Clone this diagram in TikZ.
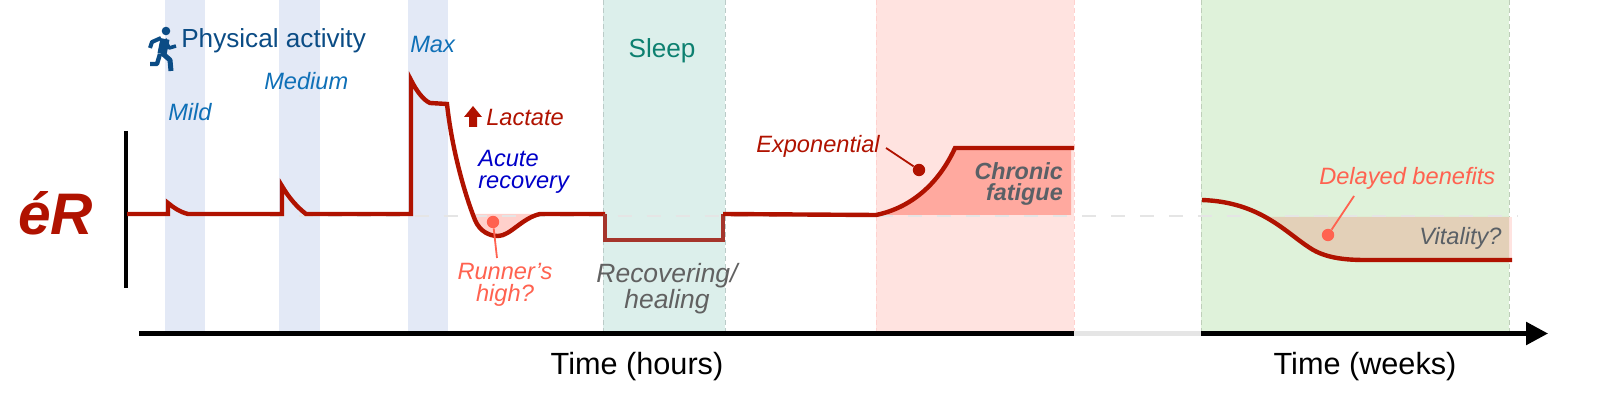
\documentclass[tikz,border=0pt]{standalone}
\usepackage{fontspec}
\usepackage{xcolor}
\setmainfont{Liberation Sans}
\usetikzlibrary{arrows.meta}
\definecolor{curvered}{HTML}{B01200}
\definecolor{sleepred}{HTML}{A5352B}
\definecolor{coral}{HTML}{FF6250}
\definecolor{activeblue}{HTML}{0F70B7}
\definecolor{runnerblue}{HTML}{0B4C85}
\definecolor{slategray}{HTML}{5A6066}
\definecolor{bandblue}{HTML}{E3E9F6}
\definecolor{bandsleep}{HTML}{DCEFEB}
\definecolor{bandred}{HTML}{FFE3E0}
\definecolor{bandgreen}{HTML}{DFF2DA}
\definecolor{dashgray}{HTML}{E5E5E5}
\tikzset{
    band/.style={fill=#1, draw=none},
    bandedge/.style={draw=#1, line width=0.25mm, dash pattern=on 1.2mm off 0.8mm},
    curve/.style={draw=curvered, line width=1.1mm, line join=miter},
    itlabel/.style={font=\fontsize{16.8}{15.6}\selectfont\itshape, anchor=base west},
    uplabel/.style={font=\fontsize{18.6}{22}\selectfont, anchor=base west},
    timelabel/.style={font=\fontsize{21.8}{26}\selectfont, anchor=base},
    dot/.style={circle, fill=#1, inner sep=0pt, minimum size=3.1mm},
    pointer/.style={draw=#1, line width=0.45mm},
    limb/.style={draw=runnerblue, line width=#1, line join=round},
}
\begin{document}
\begin{tikzpicture}[x=0.025cm, y=-0.025cm,
            >={Triangle[length=5.5mm, width=5.6mm]}
        ]
            \useasboundingbox (0,0) rectangle (1600,419);
            % activity and period bands
            \fill[band=bandblue] (165,0) rectangle (205,332);
            \fill[band=bandblue] (279,0) rectangle (320,332);
            \fill[band=bandblue] (408,0) rectangle (448,332);
            \fill[band=bandsleep] (603,0) rectangle (725,332);
            \fill[band=bandred] (876,0) rectangle (1074,332);
            \fill[band=bandgreen] (1201,0) rectangle (1509,332);
            \draw[bandedge=bandsleep!85!black] (603,0) -- (603,332) (725,0) -- (725,332);
            \draw[bandedge=bandred!92!red] (876,0) -- (876,332) (1074,0) -- (1074,332);
            \draw[bandedge=bandgreen!85!black] (1201,0) -- (1201,332) (1509,0) -- (1509,332);
            % shaded areas
            \fill[fill=coral!30!white] (475,214) .. controls (480,232) and (490,236) .. (498,236) .. controls (510,236) and (522,218) .. (540,214) -- cycle;
            \fill[fill=coral!55!white] (876,215) .. controls (910,208) and (938,185) .. (955,148) -- (1071,148) -- (1071,215) -- cycle;
            \fill[fill=bandred] (1509,217) rectangle (1512,260);
            \fill[fill={rgb,255:red,227;green,208;blue,184}] (1270,217) .. controls (1285,228) and (1298,238) .. (1310,248) .. controls (1325,258) and (1345,260) .. (1365,260) -- (1509,260) -- (1509,217) -- cycle;
            % baseline
            \draw[draw=dashgray, line width=0.7mm, dash pattern=on 9.95pt off 10.67pt] (270,216) -- (1518,216);
            % axes
            \coordinate (yaxistop) at (126,131);
            \coordinate (yaxisbot) at (126,288);
            \coordinate (xaxisa) at (139,333.5);
            \coordinate (xaxisb) at (1074,333.5);
            \coordinate (xaxisc) at (1201,333.5);
            \coordinate (xaxisd) at (1548,333.5);
            \draw[line width=1mm] (yaxistop) -- (yaxisbot);
            \draw[line width=1.1mm] (xaxisa) -- (xaxisb);
            \draw[draw=dashgray, line width=1.1mm] (xaxisb) -- (xaxisc);
            \draw[->, line width=1.1mm] (xaxisc) -- (xaxisd);
            % response curves
            \draw[curve] (127,214) -- (168,214) -- (168,203) .. controls (174,208) and (180,212) .. (188,214)
                -- (282,214) -- (282,186) .. controls (289,198) and (297,207) .. (306,214)
                -- (411,214) -- (411,80) .. controls (416,90) and (423,100) .. (430,103) -- (447,104)
                .. controls (452,150) and (465,195) .. (475,220) .. controls (480,232) and (490,236) .. (498,236)
                .. controls (510,236) and (522,218) .. (540,214) -- (605,214);
            \draw[curve, draw=sleepred] (605,214) -- (605,240) -- (723,240) -- (723,214);
            \draw[curve] (723,214) -- (876,215) .. controls (910,208) and (938,185) .. (955,148) -- (1074,148);
            \draw[curve] (1202,200) .. controls (1260,202) and (1285,232) .. (1310,248)
                .. controls (1325,258) and (1345,260) .. (1365,260) -- (1512,260);
            % runner
            \fill[fill=runnerblue] (166,31) circle (4.3);
            \draw[limb=2.3mm] (165,39) -- (162,54);
            \draw[limb=1mm] (161,38) -- (152,42) -- (150,48);
            \draw[limb=0.9mm] (165,39) -- (169,48) -- (176,46);
            \draw[limb=1.25mm] (162,53) -- (170,60) -- (171,71);
            \draw[limb=1.1mm] (160,54) -- (157,64) -- (150,64);
            % lactate arrow
            \fill[fill=curvered] (473,106) -- (482,117) -- (477,117) -- (477,127) -- (469,127) -- (469,117) -- (464,117) -- cycle;
            % texts
            \node[font=\fontsize{41.7}{48}\selectfont\bfseries\itshape, text=curvered, anchor=base west, inner sep=0pt] (ername) at (18,235) {éR};
            \node[uplabel, text=runnerblue, inner sep=0pt] (activity) at (181,48) {Physical activity};
            \node[itlabel, text=activeblue, inner sep=0pt] (mild) at (168,121) {Mild};
            \node[itlabel, text=activeblue, inner sep=0pt] (medium) at (264,90) {Medium};
            \node[itlabel, text=activeblue, inner sep=0pt] (maxlabel) at (410,53) {Max};
            \node[itlabel, text=curvered, inner sep=0pt] (lactate) at (486,126) {Lactate};
            \node[itlabel, text={rgb,255:red,0;green,0;blue,200}, anchor=west, align=left, inner sep=0pt] (acute) at (478,172) {Acute\\recovery};
            \node[itlabel, text=coral, anchor=center, align=center, inner sep=0pt] (runners) at (505,285) {Runner’s\\high?};
            \node[uplabel, text={rgb,255:red,13;green,128;blue,112}, anchor=base, inner sep=0pt] (sleep) at (662,58) {Sleep};
            \node[itlabel, font=\fontsize{18.8}{16.6}\selectfont\itshape, text=black!62, anchor=center, align=center, inner sep=0pt] (recovering) at (667,289) {Recovering/\\healing};
            \node[itlabel, text=curvered, inner sep=0pt] (exponential) at (756,153) {Exponential};
            \node[font=\fontsize{16.6}{15}\selectfont\bfseries\itshape, text=slategray, anchor=east, align=right, inner sep=0pt] (chronic) at (1063,184) {Chronic\\fatigue};
            \node[itlabel, text=coral, inner sep=0pt] (delayed) at (1319,185) {Delayed benefits};
            \node[itlabel, text=slategray, inner sep=0pt] (vitality) at (1419,245) {Vitality?};
            \node[timelabel, inner sep=0pt] (hours) at (637,375) {Time (hours)};
            \node[timelabel, inner sep=0pt] (weeks) at (1365,375) {Time (weeks)};
            % callouts
            \node[dot=coral] (runnerdot) at (493,222) {};
            \coordinate (runnertip) at (497,258);
            \draw[pointer=coral] (runnerdot) -- (runnertip);
            \node[dot=curvered] (expdot) at (919,170) {};
            \coordinate (exptip) at (886,148);
            \draw[pointer=curvered] (expdot) -- (exptip);
            \node[dot=coral] (delayeddot) at (1328,235) {};
            \coordinate (delayedtip) at (1354,196);
            \draw[pointer=coral] (delayeddot) -- (delayedtip);
        \end{tikzpicture}
\end{document}
